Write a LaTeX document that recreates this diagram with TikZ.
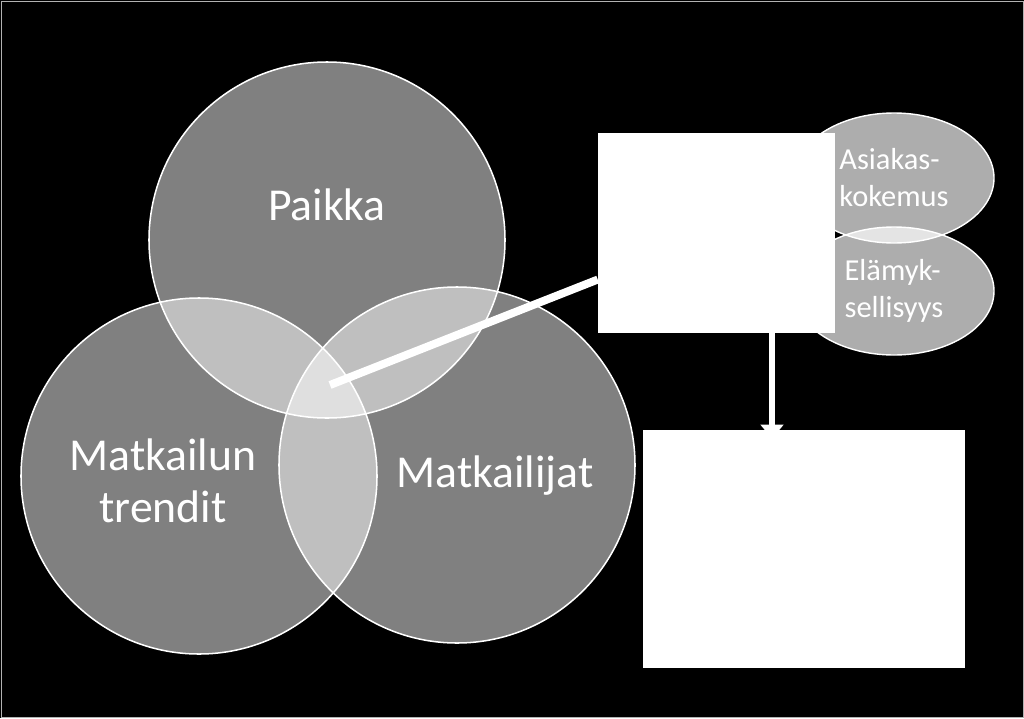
\documentclass[tikz,border=0pt]{standalone}
\usepackage{fontspec}
\setmainfont{Carlito}
\usetikzlibrary{arrows.meta,positioning,shapes.geometric,backgrounds}

\begin{document}
\begin{tikzpicture}[
  x=0.03cm, y=-0.03cm,
  venn/.style={draw=white,circle,line width=1.3pt,fill=white,fill opacity=0.5,minimum size=10.68cm,inner sep=0pt},
  oval/.style={draw=white,ellipse,line width=1.2pt,fill=white,fill opacity=0.68,text opacity=1,minimum width=6cm,inner sep=0pt,
    text=white,font=\fontsize{26}{31.6}\selectfont,align=left},
  box/.style={fill=white,rectangle,inner sep=0pt},
  big/.style={text=white,font=\fontsize{39}{44}\selectfont,align=center},
  link/.style={white,line width=6.8pt},
  arr/.style={-{Triangle[length=12pt,width=19pt]},white,line width=5pt}
]
\useasboundingbox (0,0) rectangle (1024,718);
\begin{scope}[on background layer]
  \fill[black] (0,0) rectangle (1024,718);
  \draw[gray!60,line width=0.8pt] (1,1) rectangle (1023,717);
\end{scope}

% venn circles
\node[venn] (paikka) at (327,240) {};
\node[venn] (trendit) at (199,476) {};
\node[venn] (matkailijat) at (457,465) {};

\node[big,anchor=base] (paikkaText) at (327,220) {Paikka};
\node[big,anchor=base] (trenditText) at (163,522) {Matkailun\\trendit};
\node[big,anchor=base] (matkailijatText) at (495,487) {Matkailijat};

% ovals + boxes
\node[oval,minimum height=3.9cm] (asiakas) at (894,178) {Asiakas-\\kokemus};
\node[oval,minimum height=3.84cm] (elamys) at (894,291) {Elämyk-\\sellisyys};

\node[box,minimum width=7.11cm,minimum height=6cm] (box1) at (716.5,233) {};
\node[box,minimum width=9.66cm,minimum height=7.14cm] (box2) at (804,549) {};

\coordinate (hub) at (330,385);
\draw[link] (hub) -- (box1);

\coordinate (arrowx) at (772,0);
\begin{scope}[on background layer]
  \draw[arr] (box1.south -| arrowx) -- ([yshift=-0.27cm]box2.north -| arrowx);
\end{scope}

\end{tikzpicture}
\end{document}
